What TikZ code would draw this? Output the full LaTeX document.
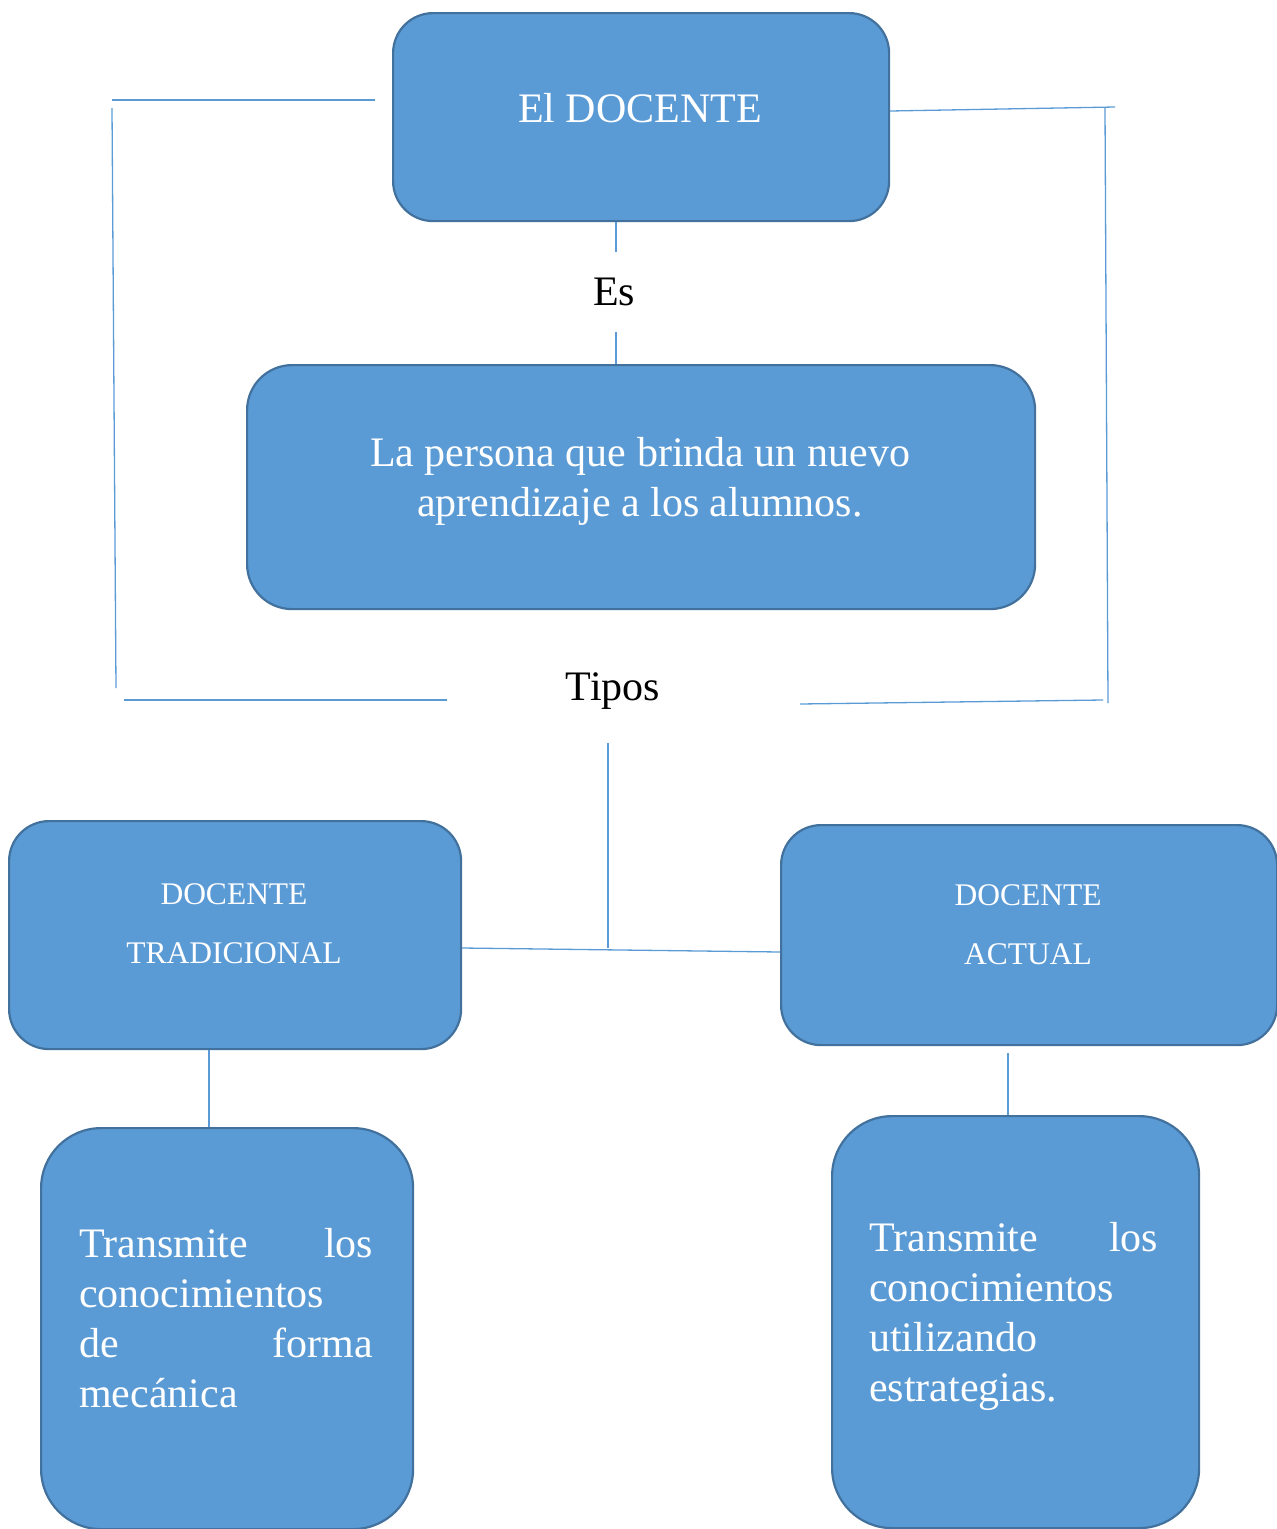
\documentclass[tikz,border=0pt]{standalone}
\usepackage{fontspec}
\setmainfont{Liberation Serif}
\definecolor{boxfill}{HTML}{5B9BD5}
\definecolor{boxdraw}{HTML}{41719C}
\definecolor{linkcol}{HTML}{5B9BD5}
\begin{document}
\begin{tikzpicture}[x=1pt,y=-1pt,
  box/.style={draw=boxdraw, fill=boxfill, line width=2.2pt, rounded corners=#1, anchor=north west, inner sep=0pt},
  big/.style={font=\fontsize{42}{50}\selectfont},
  small/.style={font=\fontsize{31.5}{59}\selectfont},
  wtxt/.style={text=white, inner sep=0pt},
  btxt/.style={text=black, inner sep=0pt},
  link/.style={draw=linkcol, line width=1.3pt}
]
\useasboundingbox (0,0) rectangle (1277,1529);

% boxes
\node[box=40pt, minimum width=496pt, minimum height=208pt] (top) at (392,12) {};
\node[box=45pt, minimum width=788pt, minimum height=244pt] (def) at (246,364) {};
\node[box=40pt, minimum width=452pt, minimum height=228pt] (trad) at (8,820) {};
\node[box=40pt, minimum width=496pt, minimum height=220pt] (act) at (780,824) {};
\node[box=60pt, minimum width=372pt, minimum height=401pt] (tradd) at (40,1127) {};
\node[box=60pt, minimum width=367pt, minimum height=412pt] (actd) at (831,1115) {};

% texts
\node[wtxt, big, anchor=base] (toptxt) at (640,122) {El DOCENTE};
\node[btxt, big, anchor=base] (es) at (614,305) {Es};
\node[wtxt, big, anchor=base, align=center] (deftxt) at (640,516) {La persona que brinda un nuevo\\aprendizaje a los alumnos.};
\node[btxt, big, anchor=base] (tipos) at (613,700) {Tipos};
\node[wtxt, small, anchor=base, align=center] (tradtxt) at (234,963) {DOCENTE\\TRADICIONAL};
\node[wtxt, small, anchor=base, align=center] (acttxt) at (1028,964) {DOCENTE\\ACTUAL};
\node[wtxt, big, anchor=north west, text width=294pt, align=left] (tradtxtd) at (79,1228) {Transmite\hfill los\\conocimientos\\de\hfill forma\\mecánica};
\node[wtxt, big, anchor=north west, text width=289pt, align=left] (acttxtd) at (869,1222) {Transmite\hfill los\\conocimientos\\utilizando\\estrategias.};

% connectors
\coordinate (esTop) at (616,252);
\coordinate (esBot) at (616,332);
\draw[link] (top.south -| esTop) -- (esTop);
\draw[link] (esBot) -- (def.north -| esBot);

\coordinate (L1) at (375,100);
\coordinate (L2) at (112,100);
\coordinate (L3) at (112,108);
\coordinate (L4) at (116,688);
\coordinate (L5) at (124,700);
\coordinate (L6) at (447,700);
\draw[link] (L1) -- (L2);
\draw[link] (L3) -- (L4);
\draw[link] (L5) -- (L6);

\coordinate (R1) at (1115,107);
\coordinate (R2) at (1105,108);
\coordinate (R3) at (1108,703);
\coordinate (R4) at (1103,700);
\coordinate (R5) at (800,704);
\draw[link] (top.east |- 0,111) -- (R1);
\draw[link] (R2) -- (R3);
\draw[link] (R4) -- (R5);

\coordinate (tipBot) at (608,743);
\coordinate (mid) at (608,948);
\draw[link] (tipBot) -- (mid);
\draw[link] (trad.east |- 0,948) -- (act.west |- 0,952);

\coordinate (tl) at (209,1048);
\draw[link] (trad.south -| tl) -- (tradd.north -| tl);
\coordinate (tr) at (1008,1053);
\draw[link] (tr) -- (actd.north -| tr);
\end{tikzpicture}
\end{document}
